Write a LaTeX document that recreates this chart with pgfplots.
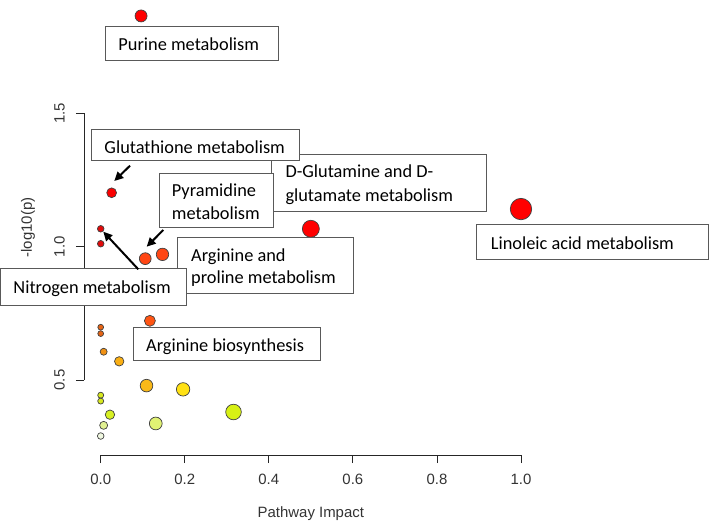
\documentclass[border=0pt]{standalone}
\usepackage{pgfplots}
\pgfplotsset{compat=1.18}
\usepackage{pgfplotstable}
\usepackage{fontspec}
\setmainfont{Liberation Sans}
\newfontfamily\calibri{Carlito}
\usetikzlibrary{arrows.meta}

\pgfplotstableread{
x y r cr cg cb
0.096 1.865 6.0 255 0 0
0.026 1.202 4.9 250 0 0
0.000 1.067 3.3 225 10 10
0.000 1.011 3.3 225 10 10
0.106 0.955 5.9 255 70 20
0.147 0.971 6.2 255 70 20
0.500 1.067 8.5 255 0 0
1.000 1.141 10.7 255 0 0
0.117 0.722 5.5 255 85 20
0.000 0.698 2.9 230 100 20
0.000 0.674 2.9 230 100 20
0.007 0.606 3.5 240 145 20
0.044 0.570 4.7 250 175 20
0.109 0.479 6.3 250 185 25
0.196 0.465 6.7 255 225 20
0.000 0.443 3.0 215 232 30
0.000 0.421 3.0 215 232 30
0.022 0.370 4.7 215 240 35
0.007 0.330 4.0 225 240 145
0.000 0.290 3.3 240 248 225
0.131 0.337 6.4 225 242 115
0.316 0.380 7.8 215 240 20
}\pathways

\begin{document}
\begin{tikzpicture}
\path[use as bounding box] (0,0) rectangle (709bp,-526bp);
\begin{axis}[
  at={(83.9bp,-455bp)}, anchor=south west,
  scale only axis, width=453.9bp, height=455bp,
  xmin=-0.04, xmax=1.04, ymin=0.2188, ymax=1.9248,
  clip=false,
  axis lines*=left,
  axis line style={draw=none},
  xtick={0,0.2,0.4,0.6,0.8,1}, ytick={0.5,1,1.5},
  minor tick num=0,
  tick align=outside, major tick length=8bp,
  tick style={black!85, line width=0.8bp},
  /pgf/number format/assume math mode=true,
  /pgf/number format/fixed, /pgf/number format/fixed zerofill,
  /pgf/number format/precision=1,
  tick label style={font=\fontsize{15}{18}\selectfont, text=black!80},
  xticklabel style={anchor=north, inner sep=0pt, yshift=-11bp},
  yticklabel style={xshift=-11bp, rotate=90, anchor=south, inner sep=0pt},
  every axis x label/.style={at={(axis description cs:0.5,0)}, yshift=-59bp, anchor=center, font=\fontsize{15}{18}\selectfont, text=black!80},
  every axis y label/.style={at={(axis description cs:0,0.5)}, xshift=-55.9bp, rotate=90, anchor=center, font=\fontsize{15}{18}\selectfont, text=black!80},
  xlabel={Pathway Impact},
  ylabel={-log10(p)},
]
\draw[black!85, line width=0.8bp] (axis cs:0,0.2188) -- (axis cs:1,0.2188);
\draw[black!85, line width=0.8bp] (axis cs:-0.04,0.5) -- (axis cs:-0.04,1.5);
\addplot[scatter, only marks, mark=*,
  visualization depends on={\thisrow{r}\as\rad},
  visualization depends on={\thisrow{cr}/255\as\cR},
  visualization depends on={\thisrow{cg}/255\as\cG},
  visualization depends on={\thisrow{cb}/255\as\cB},
  scatter/@pre marker code/.code={\definecolor{mc}{rgb}{\cR,\cG,\cB}\scope[mark size=\rad bp, fill=mc, draw=black!75, line width=0.7bp]},
  scatter/@post marker code/.code={\endscope}
] table[x=x,y=y] {\pathways};
\end{axis}
\begin{scope}[x=1bp, y=-1bp]
\tikzset{lbox/.style={fill=white, draw=black!65, line width=1bp},
         ltxt/.style={anchor=base west, inner sep=0pt, font=\calibri\fontsize{18.4}{22}\selectfont, text=black},
         larr/.style={line width=2bp, -{Triangle[length=9bp, width=8.5bp]}}}
% Purine
\filldraw[lbox] (105.7,26.7) rectangle (278.7,60.7);
\node[ltxt] at (118.3,50.7) {Purine metabolism};
% D-Glutamine
\filldraw[lbox] (271.7,154) rectangle (486,211.7);
\node[ltxt] at (285.3,177.3) {D-Glutamine and D-};
\node[ltxt] at (285.3,201) {glutamate metabolism};
% Glutathione
\filldraw[lbox] (91.3,129.3) rectangle (299.3,160.7);
\node[ltxt] at (104.3,153.3) {Glutathione metabolism};
% Pyramidine
\filldraw[lbox] (159,173.3) rectangle (273.3,227.3);
\node[ltxt] at (171.7,196.7) {Pyramidine};
\node[ltxt] at (171.7,219.3) {metabolism};
% Arginine and proline
\filldraw[lbox] (177.3,237.3) rectangle (353,293.3);
\node[ltxt] at (191,261.7) {Arginine and};
\node[ltxt] at (191,283.3) {proline metabolism};
% Nitrogen
\filldraw[lbox] (0.5,268.3) rectangle (186,305.7);
\node[ltxt] at (13.3,293.3) {Nitrogen metabolism};
% Linoleic
\filldraw[lbox] (476.7,224.7) rectangle (708.3,259);
\node[ltxt] at (490.7,249) {Linoleic acid metabolism};
% Arginine biosynthesis
\filldraw[lbox] (133.3,327) rectangle (320.7,360.8);
\node[ltxt] at (146,351.7) {Arginine biosynthesis};
% arrows
\draw[larr] (130,165.7) -- (114.3,181);
\draw[larr] (163.3,230) -- (146.7,246.7);
\draw[larr] (138.3,269.3) -- (103.3,231.7);
\end{scope}
\end{tikzpicture}
\end{document}
